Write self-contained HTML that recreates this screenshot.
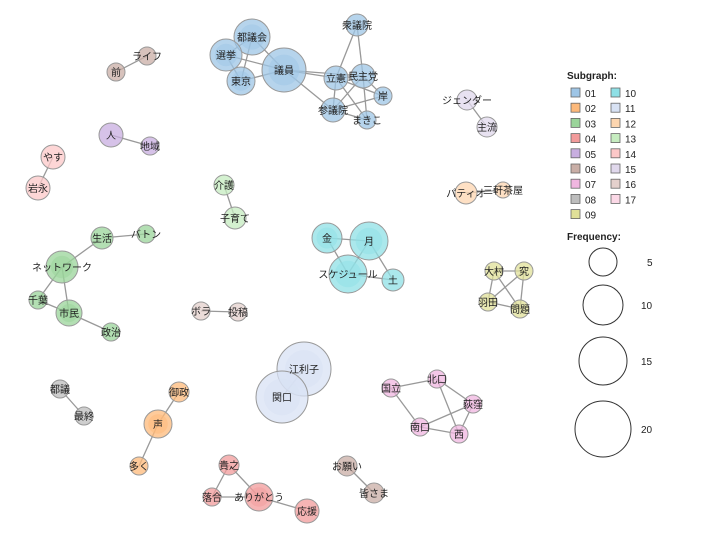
<!DOCTYPE html>
<html><head><meta charset="utf-8"><style>
html,body{margin:0;padding:0;background:#fff;width:720px;height:540px;overflow:hidden}
svg text{font-family:"Liberation Sans","Noto Sans CJK JP",sans-serif;}
</style></head><body>
<svg id="s" width="720" height="540" xmlns="http://www.w3.org/2000/svg">
<g id="e" stroke="#999" stroke-width="1.3"></g>
<g id="n"></g>
<g id="l"></g>
</svg>
<script>
const C={1:"#9ec5e6",2:"#fdb97a",3:"#9ad49a",4:"#f29b9b",5:"#c8aee0",6:"#c9aea6",7:"#f0b6e0",8:"#bdbdbd",9:"#e0e098",10:"#8fe0e6",11:"#d8e2f4",12:"#fdd6b0",13:"#c6ecc0",14:"#fcc8c8",15:"#e0d8ec",16:"#e4d0cc",17:"#fbd8e6"};
const N={
"都議会":[252,37,18,1],"選挙":[226,55,16,1],"東京":[241,81,14,1],"議員":[284,70,22,1],"衆議院":[357,25,11,1],"立憲":[336,78,12,1],"民主党":[363,76,12,1],"岸":[383,96,9,1],"参議院":[333,110,12,1],"まきこ":[367,120,9,1],
"ライフ":[147,56,9,6],"前":[116,72,9,6],
"人":[111,135,12,5],"地域":[150,146,9,5],
"やす":[53,157,12,14],"岩永":[38,188,12,14],
"ジェンダー":[467,100,10,15],"主流":[487,127,10,15],
"パティオ":[466,193,11,12],"三軒茶屋":[503,190,8,12],
"介護":[224,185,10,13],"子育て":[235,218,11,13],
"生活":[102,238,11,3],"バトン":[146,234,9,3],"ネットワーク":[62,267,16,3],"千葉":[38,300,9,3],"市民":[69,313,13,3],"政治":[111,332,9,3],
"金":[327,238,15,10],"月":[369,241,19,10],"スケジュール":[348,274,19,10],"土":[393,280,11,10],
"大村":[494,271,9,9],"究":[524,271,9,9],"羽田":[488,302,9,9],"問題":[520,309,9,9],
"ボラ":[201,311,9,16],"投稿":[238,312,9,16],
"江利子":[304,369,27,11],"関口":[282,397,26,11],
"都議":[60,389,9,8],"最終":[84,416,9,8],
"御政":[179,392,10,2],"声":[158,424,14,2],"多く":[139,466,9,2],
"北口":[437,379,9,7],"国立":[391,388,9,7],"荻窪":[473,404,9,7],"南口":[420,427,9,7],"西":[459,434,9,7],
"貴之":[229,465,10,4],"落合":[212,497,9,4],"ありがとう":[259,497,14,4],"応援":[307,511,12,4],
"お願い":[347,466,10,6],"皆さま":[374,493,10,6]};
const E=[["都議会","選挙"],["都議会","東京"],["都議会","議員"],["選挙","東京"],["選挙","議員"],["東京","議員"],["議員","立憲"],["議員","民主党"],["議員","参議院"],["衆議院","立憲"],["衆議院","民主党"],["立憲","民主党"],["立憲","岸"],["立憲","参議院"],["立憲","まきこ"],["民主党","参議院"],["民主党","まきこ"],["民主党","岸"],["岸","参議院"],["参議院","まきこ"],
["ライフ","前"],["人","地域"],["やす","岩永"],["ジェンダー","主流"],["パティオ","三軒茶屋"],["介護","子育て"],
["生活","バトン"],["生活","ネットワーク"],["ネットワーク","千葉"],["ネットワーク","市民"],["市民","千葉"],["市民","政治"],
["金","月"],["金","スケジュール"],["月","スケジュール"],["月","土"],["スケジュール","土"],
["大村","究"],["大村","羽田"],["大村","問題"],["究","羽田"],["究","問題"],["羽田","問題"],
["ボラ","投稿"],["江利子","関口"],["都議","最終"],["御政","声"],["声","多く"],
["北口","国立"],["北口","荻窪"],["北口","西"],["国立","南口"],["南口","荻窪"],["南口","西"],["荻窪","西"],
["貴之","ありがとう"],["落合","ありがとう"],["貴之","落合"],["ありがとう","応援"],["お願い","皆さま"]];
const ns="http://www.w3.org/2000/svg";
function el(t,a,p,txt){const x=document.createElementNS(ns,t);for(const k in a)x.setAttribute(k,a[k]);if(txt)x.textContent=txt;document.getElementById(p)?document.getElementById(p).appendChild(x):p.appendChild(x);return x;}
E.forEach(([a,b])=>el("line",{x1:N[a][0],y1:N[a][1],x2:N[b][0],y2:N[b][1]},"e"));
for(const k in N){const [x,y,r,c]=N[k];
 el("circle",{cx:x,cy:y,r:r,fill:C[c],"fill-opacity":0.75,stroke:"#999","stroke-width":1},"n");
 if(r>12)el("circle",{cx:x,cy:y,r:r*0.7,fill:C[c],"fill-opacity":0.5},"n");
 el("text",{x:x,y:y+4,"font-size":10,"text-anchor":"middle",fill:"#222"},"l",k);}
const s=document.getElementById("s");
el("text",{x:567,y:79,"font-size":10,"font-weight":"bold",fill:"#222"},s,"Subgraph:");
for(let i=1;i<=17;i++){const col=i<=9?0:1,row=i<=9?i-1:i-10;const x=571+col*40,y=88+row*15.2;
 el("rect",{x:x,y:y,width:9,height:9,fill:C[i],stroke:"#666","stroke-width":0.8},s);
 el("text",{x:x+14,y:y+9,"font-size":10,fill:"#222"},s,(i<10?"0":"")+i);}
el("text",{x:567,y:240,"font-size":10,"font-weight":"bold",fill:"#222"},s,"Frequency:");
[[262,14,"5",647],[305,20,"10",641],[361,24,"15",641],[429,28,"20",641]].forEach(([y,r,t,tx])=>{
 el("circle",{cx:603,cy:y,r:r,fill:"none",stroke:"#333","stroke-width":1},s);
 el("text",{x:tx,y:y+4,"font-size":10,fill:"#222"},s,t);});
</script>
</body></html>
